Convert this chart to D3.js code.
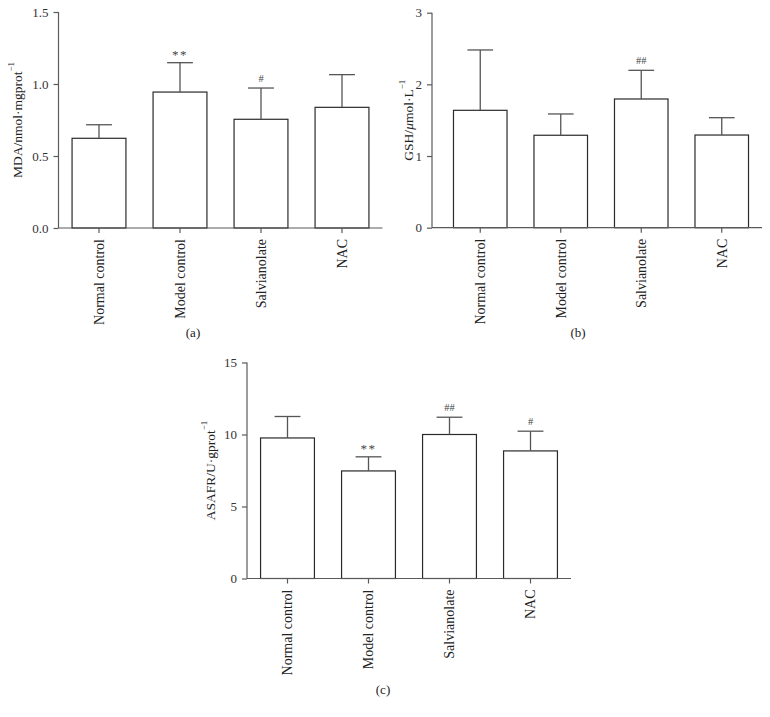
<!DOCTYPE html>
<html>
<head>
<meta charset="utf-8">
<script src="https://cdn.jsdelivr.net/npm/d3@7"></script>
<style>
  html, body { margin: 0; padding: 0; background: #fff; }
  svg { display: block; }
  text { font-family: "Liberation Serif", "Times New Roman", serif; }
</style>
</head>
<body>
<svg id="chart" width="770" height="717"></svg>
<script>
// ---- data ----
const categories = ["Normal control", "Model control", "Salvianolate", "NAC"];

const mdaMean = [0.623, 0.944, 0.755, 0.838];
const mdaSD   = [0.094, 0.204, 0.217, 0.227];
const mdaMarks = ["", "**", "#", ""];
const mdaTicks = [0, 0.5, 1.0, 1.5];

const gshMean = [1.638, 1.290, 1.796, 1.293];
const gshSD   = [0.842, 0.297, 0.400, 0.242];
const gshMarks = ["", "", "##", ""];
const gshTicks = [0, 1, 2, 3];

const asafrMean = [9.76, 7.47, 10.00, 8.86];
const asafrSD   = [1.49, 0.98, 1.20, 1.37];
const asafrMarks = ["", "**", "##", "#"];
const asafrTicks = [0, 5, 10, 15];

// ---- layout ----
const panels = [
  { mean: mdaMean, sd: mdaSD, marks: mdaMarks, ticks: mdaTicks, fmt: d3.format(".1f"),
    axisX: 58.5, bandRange: [58.5, 382.5], yRange: [228, 12], yMax: 1.5,
    ylabel: ["MDA/nmol·mgprot", "−1"], ylabelX: 17, tag: "(a)", tagPos: [193, 337] },
  { mean: gshMean, sd: gshSD, marks: gshMarks, ticks: gshTicks, fmt: d3.format("d"),
    axisX: 432, bandRange: [440, 762], yRange: [227.7, 12.7], yMax: 3,
    ylabel: ["GSH/", "μ", "mol·L", "−1"], ylabelX: 408, tag: "(b)", tagPos: [578, 337] },
  { mean: asafrMean, sd: asafrSD, marks: asafrMarks, ticks: asafrTicks, fmt: d3.format("d"),
    axisX: 247, bandRange: [247, 571], yRange: [578.5, 362.5], yMax: 15,
    ylabel: ["ASAFR/U·gprot", "−1"], ylabelX: 210, tag: "(c)", tagPos: [383, 694] }
];

const svg = d3.select("#chart");
const axisColor = "#5a5a5a";
const barColor = "#2a2a2a";

panels.forEach((p, pi) => {
  const g = svg.append("g");
  const x = d3.scaleBand().domain(categories).range(p.bandRange)
    .paddingInner(0.335).paddingOuter(0.1675);
  const y = d3.scaleLinear().domain([0, p.yMax]).range(p.yRange);
  const y0 = y(0);

  // bars
  g.selectAll("rect.bar").data(categories).join("rect")
    .attr("class", "bar")
    .attr("x", d => x(d))
    .attr("y", (d, i) => y(p.mean[i]))
    .attr("width", x.bandwidth())
    .attr("height", (d, i) => y0 - y(p.mean[i]))
    .attr("fill", "#fff")
    .attr("stroke", barColor)
    .attr("stroke-width", 1.2);

  // error bars (upper only)
  const capW = x.bandwidth() * 0.48;
  categories.forEach((c, i) => {
    const cx = x(c) + x.bandwidth() / 2;
    const top = y(p.mean[i] + p.sd[i]);
    g.append("line").attr("x1", cx).attr("x2", cx)
      .attr("y1", y(p.mean[i])).attr("y2", top)
      .attr("stroke", "#555").attr("stroke-width", 1.3);
    g.append("line").attr("x1", cx - capW / 2).attr("x2", cx + capW / 2)
      .attr("y1", top).attr("y2", top)
      .attr("stroke", "#555").attr("stroke-width", 1.3);
    if (p.marks[i]) {
      const isStar = p.marks[i].startsWith("*");
      g.append("text")
        .attr("x", cx).attr("y", top - (isStar ? 4 : 6))
        .attr("text-anchor", "middle")
        .attr("font-size", isStar ? 13 : 10.5)
        .attr("letter-spacing", isStar ? 1.5 : 0)
        .attr("fill", "#444")
        .text(p.marks[i]);
    }
  });

  // y axis
  const yAxis = g.append("g").attr("transform", `translate(${p.axisX},0)`)
    .call(d3.axisLeft(y).tickValues(p.ticks).tickFormat(p.fmt).tickSize(5).tickPadding(5));
  yAxis.select(".domain").attr("stroke", axisColor).attr("stroke-width", 1.2)
    .attr("d", `M0,${p.yRange[1]}V${p.yRange[0]}`);
  yAxis.selectAll(".tick line").attr("stroke", axisColor).attr("stroke-width", 1.2);
  yAxis.selectAll(".tick text").attr("font-size", 13)
    .attr("font-family", "Liberation Serif").attr("fill", "#333");

  // x axis
  const xAxis = g.append("g").attr("transform", `translate(0,${y0})`)
    .call(d3.axisBottom(x).tickSize(5).tickPadding(4));
  xAxis.select(".domain").attr("stroke", axisColor).attr("stroke-width", 1.2)
    .attr("d", `M${p.axisX},0H${p.bandRange[1]}`);
  xAxis.selectAll(".tick line").attr("stroke", axisColor).attr("stroke-width", 1.2);
  xAxis.selectAll(".tick text")
    .attr("font-size", 14).attr("font-family", "Liberation Serif").attr("fill", "#222")
    .attr("text-anchor", "end")
    .attr("transform", "rotate(-90)")
    .attr("x", -11).attr("y", 0).attr("dy", "0.35em");

  // y label
  const cy = (p.yRange[0] + p.yRange[1]) / 2;
  const lab = g.append("text")
    .attr("transform", `translate(${p.ylabelX},${cy}) rotate(-90)`)
    .attr("text-anchor", "middle").attr("dy", "0.35em")
    .attr("font-size", 13.5).attr("fill", "#222");
  if (p.ylabel.length === 2) {
    lab.append("tspan").text(p.ylabel[0]);
    lab.append("tspan").attr("font-size", 9).attr("dy", "-0.9em").text(p.ylabel[1]);
  } else {
    lab.append("tspan").text(p.ylabel[0]);
    lab.append("tspan").attr("font-style", "italic").text(p.ylabel[1]);
    lab.append("tspan").text(p.ylabel[2]);
    lab.append("tspan").attr("font-size", 9).attr("dy", "-0.9em").text(p.ylabel[3]);
  }

  // panel tag
  g.append("text").attr("x", p.tagPos[0]).attr("y", p.tagPos[1])
    .attr("text-anchor", "middle").attr("font-size", 13).attr("fill", "#222")
    .text(p.tag);
});
</script>
</body>
</html>
